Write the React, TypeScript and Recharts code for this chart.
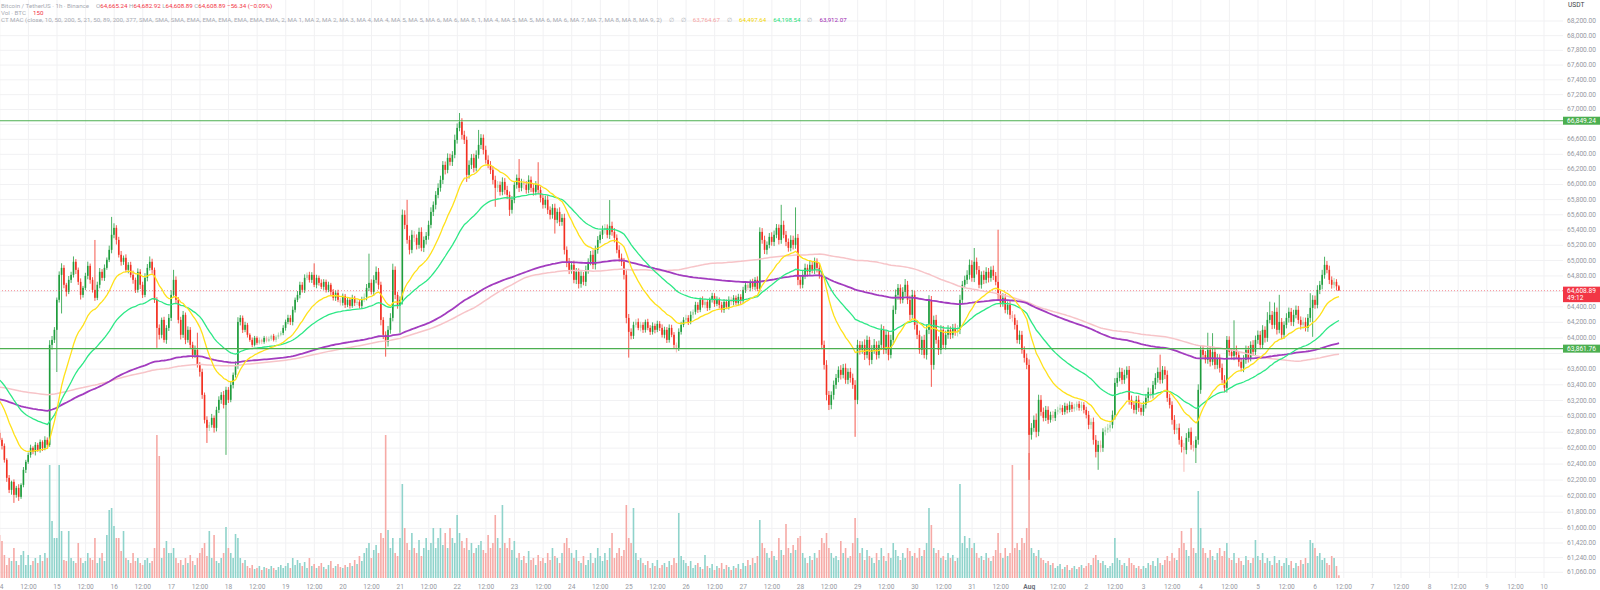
import React from "react"
import { Bar, CartesianGrid, ComposedChart, Line, ReferenceLine, XAxis, YAxis } from "recharts"

// BTCUSDT 1h, Binance, one candle per hour from 14 Jul 00:00 to 6 Aug 10:00
const firstOpen = 62792

const closes = [
  62704, 62628, 62453, 62228, 62078, 62178, 62016, 62103, 61991, 62140, 62328, 62428, 62515, 62603, 62553, 62641, 62578, 62678, 62603, 62704, 62641, 63910, 63974, 64103,
  64490, 64814, 64905, 64685, 64594, 64749, 64814, 64984, 64879, 64723, 64554, 64645, 64801, 64931, 64749, 64619, 64516, 64685, 64853, 64775, 64905, 65010, 65140, 65337,
  65428, 65270, 65075, 64984, 65036, 64879, 64944, 64814, 64749, 64619, 64853, 64685, 64554, 64775, 64905, 64984, 64879, 64490, 64128, 64039, 64231, 63974, 64128, 64257,
  64554, 64749, 64490, 64231, 64039, 64296, 63974, 64103, 63910, 63782, 63846, 63654, 63565, 63272, 62956, 62855, 62893, 62981, 62855, 63082, 63209, 63272, 63145, 63336,
  63209, 63399, 63527, 63654, 64205, 64257, 64103, 64167, 64039, 63974, 63910, 64000, 63936, 63974, 63949, 64000, 63961, 63987, 64026, 63974, 64013, 64039, 64064, 64128,
  64205, 64257, 64205, 64361, 64490, 64554, 64685, 64619, 64775, 64814, 64749, 64814, 64685, 64775, 64710, 64659, 64723, 64619, 64685, 64594, 64516, 64581, 64490, 64451,
  64541, 64425, 64490, 64412, 64516, 64451, 64464, 64412, 64490, 64528, 64645, 64710, 64594, 64749, 64853, 64685, 64231, 64039, 63949, 64103, 64257, 64879, 64554, 64425,
  64490, 65599, 65467, 65270, 65140, 65337, 65297, 65205, 65375, 65166, 65270, 65323, 65467, 65638, 65731, 65862, 65955, 66061, 66260, 66193, 66353, 66300, 66393, 66593,
  66753, 66833, 66660, 66593, 66127, 66260, 66353, 66220, 66393, 66526, 66620, 66460, 66327, 66260, 66193, 66061, 65955, 65995, 65902, 66034, 65928, 65862, 65665, 65797,
  65995, 66087, 65955, 66021, 65995, 65928, 66061, 65955, 65902, 65995, 65928, 65823, 65731, 65797, 65665, 65599, 65691, 65533, 65638, 65506, 65559, 65140, 64984, 64879,
  64944, 64749, 64853, 64697, 64801, 64723, 64879, 64984, 65075, 64944, 65140, 65270, 65337, 65402, 65428, 65337, 65454, 65375, 65297, 65140, 65036, 64984, 64814, 64257,
  64077, 64026, 64167, 64205, 64128, 64167, 64103, 64205, 64128, 64077, 64154, 64103, 64180, 64128, 64039, 64103, 63974, 64128, 64039, 63910, 63872, 64077, 64167, 64231,
  64257, 64205, 64296, 64335, 64425, 64361, 64490, 64425, 64464, 64386, 64490, 64541, 64438, 64490, 64425, 64361, 64464, 64399, 64490, 64464, 64516, 64451, 64528, 64477,
  64619, 64685, 64645, 64723, 64659, 64749, 64632, 65375, 65270, 65140, 65205, 65310, 65244, 65337, 65428, 65270, 65467, 65337, 65244, 65166, 65270, 65205, 65297, 64749,
  64685, 64814, 64905, 64853, 64944, 64879, 64984, 64905, 64814, 63910, 63654, 63272, 63145, 63272, 63399, 63488, 63590, 63527, 63616, 63463, 63565, 63488, 63399, 63209,
  63910, 63846, 63910, 63782, 63974, 63718, 63846, 63910, 63782, 63910, 64103, 63846, 64039, 63782, 63974, 64361, 64554, 64645, 64490, 64594, 64685, 64490, 64296, 64554,
  64167, 64039, 63846, 63974, 63782, 64103, 64490, 63654, 64231, 63974, 63846, 64103, 63910, 64039, 64103, 64039, 64128, 64077, 64103, 64490, 64685, 64749, 64814, 64944,
  64775, 64984, 64879, 64685, 64814, 64749, 64853, 64775, 64879, 64801, 64723, 64554, 64451, 64516, 64361, 64425, 64296, 64257, 64167, 63974, 64039, 63846, 63744, 63654,
  62767, 62855, 62956, 62805, 63209, 63057, 62981, 63082, 62956, 63019, 62981, 63057, 63082, 63107, 63057, 63133, 63082, 63145, 63095, 63120, 63158, 63107, 63145, 63082,
  63019, 62893, 62930, 62704, 62553, 62641, 62603, 62805, 62830, 62855, 62893, 63019, 63425, 63488, 63565, 63463, 63527, 63590, 63209, 63145, 63082, 63209, 63107, 63057,
  63145, 63234, 63310, 63272, 63399, 63488, 63565, 63463, 63590, 63527, 63234, 63145, 62956, 62830, 62855, 62704, 62615, 62578, 62729, 62805, 62641, 62603, 62704, 63336,
  63846, 63782, 63718, 63846, 63693, 63820, 63654, 63744, 63616, 63463, 63361, 63974, 63820, 63769, 63846, 63782, 63693, 63616, 63718, 63846, 63744, 63910, 63820, 63974,
  64039, 63910, 64103, 64000, 64231, 64296, 64167, 64335, 64103, 64205, 64039, 64167, 64257, 64335, 64205, 64296, 64361, 64231, 64167, 64205, 64128, 64257, 64386, 64490,
  64425, 64619, 64685, 64814, 64944, 64879, 64749, 64685, 64723, 64665.24, 64608.89,
]

// wick lengths above the body top and below the body bottom, USDT
const upperWicks = [
  40, 25, 30, 20, 35, 15, 30, 25, 45, 20, 35, 25, 30, 40, 20, 35, 25, 30, 20, 45, 30, 60, 50, 35,
  30, 45, 60, 35, 25, 50, 40, 70, 35, 30, 45, 25, 40, 55, 30, 35, 650, 40, 50, 35, 45, 30, 55, 235,
  60, 35, 40, 50, 30, 45, 35, 40, 55, 30, 45, 35, 40, 60, 50, 70, 40, 30, 35, 45, 30, 40, 35, 50,
  60, 130, 45, 35, 40, 50, 30, 45, 35, 40, 55, 220, 35, 40, 30, 45, 35, 50, 30, 40, 45, 35, 50, 40,
  35, 40, 30, 45, 60, 35, 30, 40, 25, 20, 30, 25, 20, 30, 15, 25, 20, 30, 15, 25, 20, 30, 25, 35,
  30, 40, 35, 45, 30, 50, 40, 35, 45, 30, 40, 35, 150, 40, 30, 45, 35, 30, 40, 25, 35, 30, 40, 25,
  30, 25, 35, 30, 40, 25, 30, 35, 40, 45, 50, 380, 45, 60, 70, 50, 40, 35, 45, 50, 60, 80, 45, 40,
  45, 70, 60, 330, 55, 60, 50, 45, 55, 60, 45, 50, 55, 60, 45, 50, 60, 55, 50, 45, 60, 55, 50, 70,
  60, 120, 50, 55, 45, 60, 50, 55, 60, 200, 50, 45, 55, 60, 50, 45, 55, 50, 45, 60, 50, 55, 45, 50,
  50, 45, 250, 55, 45, 50, 60, 45, 55, 50, 300, 45, 50, 55, 60, 45, 50, 55, 45, 60, 50, 55, 45, 50,
  45, 55, 50, 45, 60, 50, 55, 45, 50, 60, 55, 50, 45, 55, 50, 45, 340, 55, 50, 45, 60, 55, 50, 60,
  50, 45, 40, 35, 45, 40, 35, 30, 40, 35, 45, 30, 40, 35, 45, 40, 35, 45, 40, 35, 30, 45, 40, 35,
  40, 35, 45, 30, 40, 35, 30, 45, 40, 35, 30, 40, 35, 45, 30, 40, 35, 30, 45, 40, 35, 30, 40, 35,
  40, 35, 45, 30, 40, 35, 45, 60, 50, 55, 45, 50, 60, 55, 50, 45, 264, 55, 50, 45, 60, 55, 400, 50,
  60, 50, 55, 45, 60, 50, 55, 45, 60, 50, 55, 60, 50, 45, 55, 50, 45, 60, 50, 55, 45, 50, 55, 60,
  65, 50, 45, 70, 55, 40, 60, 75, 45, 55, 70, 50, 60, 45, 65, 55, 70, 50, 45, 60, 75, 50, 55, 65,
  50, 60, 55, 45, 65, 70, 60, 50, 55, 65, 45, 60, 50, 55, 60, 45, 50, 55, 60, 65, 50, 55, 60, 70,
  60, 180, 55, 50, 45, 55, 60, 50, 45, 55, 50, 680, 55, 60, 50, 45, 55, 50, 45, 60, 55, 50, 45, 55,
  70, 60, 55, 80, 65, 60, 55, 50, 45, 40, 50, 35, 40, 45, 35, 40, 30, 45, 35, 40, 30, 35, 40, 35,
  40, 50, 45, 55, 60, 50, 55, 45, 40, 50, 45, 55, 60, 70, 55, 50, 65, 45, 50, 55, 45, 50, 55, 45,
  45, 50, 55, 45, 50, 60, 55, 220, 50, 45, 55, 50, 45, 60, 50, 55, 45, 50, 60, 45, 55, 50, 45, 70,
  60, 55, 50, 220, 45, 240, 55, 50, 45, 55, 60, 50, 45, 50, 380, 55, 50, 45, 60, 55, 50, 45, 60, 55,
  55, 50, 60, 45, 100, 170, 50, 120, 55, 350, 50, 45, 60, 55, 50, 65, 55, 50, 45, 60, 55, 50, 190, 60,
  55, 60, 50, 65, 106, 50, 55, 45, 50, 35, 17.68,
]

const lowerWicks = [
  30, 45, 35, 50, 40, 60, 100, 35, 50, 25, 30, 40, 25, 35, 30, 45, 25, 35, 40, 30, 45, 25, 60, 40,
  540, 35, 500, 45, 60, 30, 40, 35, 55, 40, 60, 35, 30, 45, 50, 35, 40, 30, 45, 35, 40, 25, 30, 45,
  45, 60, 35, 50, 40, 30, 45, 35, 50, 40, 35, 55, 40, 30, 45, 35, 50, 40, 256, 60, 45, 35, 50, 40,
  40, 35, 50, 45, 60, 40, 55, 35, 50, 45, 40, 35, 60, 50, 45, 190, 40, 35, 60, 45, 40, 50, 45, 630,
  40, 30, 45, 35, 50, 45, 40, 30, 35, 25, 30, 20, 25, 20, 30, 25, 20, 15, 25, 20, 30, 25, 20, 30,
  35, 30, 40, 45, 35, 30, 45, 35, 40, 30, 35, 40, 30, 45, 35, 30, 40, 35, 30, 45, 35, 40, 30, 35,
  35, 40, 30, 35, 25, 40, 30, 35, 40, 30, 45, 40, 35, 50, 45, 60, 70, 55, 190, 60, 50, 45, 55, 50,
  360, 60, 55, 50, 60, 45, 55, 60, 50, 45, 55, 60, 50, 45, 55, 60, 45, 50, 55, 60, 45, 50, 55, 45,
  50, 45, 60, 55, 93, 50, 55, 60, 45, 50, 55, 60, 50, 45, 55, 60, 250, 55, 50, 45, 60, 55, 80, 50,
  45, 50, 55, 45, 60, 50, 45, 55, 50, 45, 55, 60, 50, 45, 55, 60, 50, 180, 45, 55, 50, 60, 70, 55,
  50, 45, 55, 60, 50, 45, 55, 50, 45, 55, 60, 50, 45, 55, 50, 45, 55, 50, 60, 45, 50, 55, 60, 70,
  330, 45, 40, 35, 30, 45, 40, 35, 30, 40, 35, 45, 30, 40, 35, 45, 40, 35, 30, 45, 60, 40, 35, 30,
  35, 40, 30, 45, 35, 40, 30, 35, 45, 40, 30, 35, 40, 30, 45, 35, 40, 30, 35, 40, 45, 30, 35, 40,
  35, 40, 30, 45, 35, 40, 30, 45, 50, 55, 60, 45, 50, 55, 45, 60, 50, 45, 55, 50, 45, 60, 50, 70,
  50, 45, 55, 60, 50, 45, 55, 60, 50, 55, 60, 70, 65, 55, 60, 50, 55, 60, 45, 50, 55, 60, 50, 467,
  55, 60, 50, 65, 45, 70, 55, 50, 60, 45, 65, 55, 50, 70, 45, 60, 55, 65, 50, 45, 60, 55, 70, 50,
  60, 55, 50, 65, 45, 60, 55, 280, 60, 50, 65, 55, 45, 60, 50, 55, 45, 50, 60, 55, 50, 45, 55, 60,
  50, 55, 60, 45, 50, 55, 45, 60, 50, 55, 45, 60, 55, 50, 45, 60, 55, 50, 60, 45, 55, 50, 60, 55,
  565, 60, 50, 70, 55, 50, 45, 40, 50, 35, 45, 40, 35, 45, 40, 35, 45, 30, 40, 35, 45, 35, 40, 45,
  45, 55, 50, 60, 70, 225, 55, 50, 45, 40, 50, 45, 60, 50, 45, 55, 50, 45, 60, 50, 45, 55, 50, 45,
  50, 45, 55, 50, 45, 55, 60, 50, 45, 55, 50, 45, 60, 55, 50, 60, 70, 275, 55, 50, 60, 45, 190, 60,
  50, 55, 45, 50, 60, 45, 55, 50, 60, 45, 55, 60, 50, 45, 55, 50, 60, 45, 55, 50, 60, 45, 50, 55,
  50, 55, 45, 60, 50, 45, 55, 50, 60, 45, 55, 50, 45, 60, 50, 55, 45, 50, 60, 55, 45, 50, 55, 373,
  50, 45, 55, 60, 50, 45, 55, 50, 45, 55, 0,
]

// volume, BTC
const volumes = [
  2365, 2035, 1265, 715, 1100, 935, 1650, 935, 715, 1265, 1485, 715, 1265, 715, 935, 1100, 825, 1265, 935, 1375, 1100, 6215, 3135, 2200,
  2200, 6215, 2585, 990, 935, 2585, 1100, 935, 825, 1925, 1100, 825, 935, 1375, 1100, 990, 2200, 825, 1100, 1375, 935, 2365, 3740, 3850,
  2860, 2200, 2200, 1485, 2585, 1100, 990, 825, 1375, 935, 1100, 825, 715, 990, 1100, 825, 935, 1650, 7865, 6710, 1100, 1650, 2035, 1375,
  1375, 1650, 1100, 825, 990, 715, 1100, 825, 1265, 935, 715, 1100, 1375, 1650, 1925, 1210, 2585, 1100, 2365, 935, 825, 1100, 1375, 2805,
  1650, 1375, 1100, 2420, 2200, 1100, 825, 990, 660, 550, 715, 495, 550, 660, 440, 605, 550, 495, 660, 550, 440, 605, 715, 550,
  660, 825, 550, 1100, 715, 990, 825, 660, 880, 550, 1100, 660, 770, 550, 660, 825, 605, 495, 715, 935, 550, 660, 770, 605,
  550, 715, 605, 825, 660, 990, 770, 1210, 935, 1375, 1650, 1925, 1100, 1540, 1815, 1375, 2475, 2200, 7865, 2640, 1650, 2200, 1375, 1210,
  2200, 5170, 2750, 1925, 1540, 2475, 1650, 1375, 2090, 1210, 1650, 2200, 1540, 1925, 2750, 1650, 2200, 2750, 1815, 2475, 1650, 2750, 2200, 1925,
  3465, 2475, 2035, 1650, 2200, 1540, 1925, 1375, 1650, 1815, 2035, 1540, 1375, 2365, 1650, 1925, 3465, 2200, 1650, 4015, 1925, 1650, 2200, 1540,
  2035, 1100, 1375, 990, 1210, 825, 1485, 990, 1100, 715, 1265, 935, 1100, 825, 1375, 990, 1650, 1210, 1100, 825, 1375, 1925, 2200, 1650,
  1375, 1100, 1540, 935, 825, 1210, 715, 990, 1375, 825, 1100, 1650, 1210, 935, 1375, 990, 1650, 2475, 1100, 1375, 1650, 1210, 1540, 4015,
  2200, 1925, 3850, 1375, 990, 1100, 825, 715, 935, 550, 825, 660, 990, 550, 715, 825, 605, 935, 715, 1100, 825, 3575, 1210, 990,
  825, 660, 935, 550, 715, 825, 605, 495, 1265, 660, 550, 770, 440, 660, 550, 825, 495, 715, 605, 440, 660, 550, 770, 495,
  825, 660, 990, 715, 1100, 825, 1210, 3190, 1925, 1650, 1375, 1100, 1485, 1210, 990, 2200, 1540, 1265, 2970, 1650, 1375, 1815, 1540, 2200,
  2310, 1375, 1100, 825, 1210, 990, 1375, 1100, 1540, 2200, 1925, 2475, 1650, 1375, 1100, 1210, 990, 2035, 1375, 1650, 1100, 1210, 1925, 3300,
  2200, 1375, 1650, 990, 1540, 1210, 1100, 825, 1375, 990, 1650, 1210, 935, 1375, 1100, 1925, 1540, 1210, 990, 1375, 1100, 1650, 1485, 1210,
  1375, 1100, 1650, 1210, 1540, 1925, 3850, 2915, 1650, 1375, 1540, 1100, 1210, 990, 1375, 1100, 1265, 935, 1100, 5170, 1925, 2310, 1650, 2200,
  1650, 1925, 1375, 1100, 1210, 990, 1375, 1100, 935, 1210, 1540, 2475, 1375, 1100, 1650, 1210, 1375, 6215, 1650, 1925, 1540, 2200, 1925, 2750,
  6875, 1650, 1375, 1210, 1540, 1100, 990, 825, 935, 715, 825, 550, 660, 770, 495, 605, 715, 440, 550, 660, 495, 605, 715, 550,
  660, 825, 715, 1100, 1265, 990, 825, 935, 715, 550, 660, 825, 2200, 1100, 990, 715, 825, 660, 1100, 825, 715, 550, 660, 495,
  660, 550, 825, 715, 935, 660, 1100, 825, 715, 990, 1210, 935, 1375, 1100, 990, 1650, 2585, 1925, 1540, 1210, 2750, 1650, 1375, 4785,
  2750, 1650, 1375, 1100, 1540, 1210, 990, 1375, 1650, 1210, 1485, 1925, 1100, 990, 1375, 825, 1100, 935, 715, 1210, 990, 825, 1100, 2090,
  1210, 990, 1375, 825, 1100, 935, 715, 1210, 825, 990, 660, 825, 1100, 715, 935, 550, 825, 660, 990, 770, 1100, 825, 2090, 1925,
  1650, 1210, 1375, 990, 1100, 825, 715, 1210, 1100, 660, 150,
]

// moving average values at the left edge of the chart (prices before 14 Jul are not shown)
const sma200Start = 63374
const ema21Start = 63240
const ema50Start = 63490
const ema200Start = 63220

const dayLabels = ["14", "15", "16", "17", "18", "19", "20", "21", "22", "23", "24", "25", "26", "27", "28", "29", "30", "31", "Aug", "2", "3", "4", "5", "6", "7", "8", "9", "10"]
const timeTicks = Array.from({ length: 55 }, (_, i) => i * 12)

const priceTicks = [
  61060, 61240, 61420, 61600, 61800, 62000, 62200, 62400, 62600, 62800, 63000, 63200, 63400, 63600, 64000, 64200, 64400,
  64800, 65000, 65200, 65400, 65600, 65800, 66000, 66200, 66400, 66600, 67000, 67200, 67400, 67600, 67800, 68000, 68200,
]
const gridPrices = [...priceTicks, 63800, 64600, 66800]

const support = 63861.76
const resistance = 66849.24
const lastPrice = 64608.89

const X_DOMAIN = [0.084, 655.98]
const Y_DOMAIN = [60990, 68488]
const VOL_DOMAIN = [0, 31790]

const FONT = 'Roboto, "Noto Sans", sans-serif'
const BG = "#ffffff"
const UP = "#1f9d3d"
const DOWN = "#f23022"
const UP_FAINT = "#a3d6aa"
const DOWN_FAINT = "#f7aaa4"

function ema(seed: number, n: number) {
  const k = 2 / (n + 1)
  let e = seed
  return closes.map((c) => (e = e + k * (c - e)))
}

function smaWithStart(seed: number, n: number) {
  return closes.map((_, i) => {
    let s = 0
    let cnt = 0
    for (let j = Math.max(0, i - n + 1); j <= i; j++) {
      s += closes[j]
      cnt++
    }
    return (s + (n - cnt) * seed) / n
  })
}

const ma21 = ema(ema21Start, 21)
const ma50 = ema(ema50Start, 50)
const ma200 = ema(ema200Start, 200)
const sma200 = smaWithStart(sma200Start, 200)

const rows = closes.map((c, i) => {
  const o = i === 0 ? firstOpen : closes[i - 1]
  const hi = Math.max(o, c) + upperWicks[i]
  const lo = Math.min(o, c) - lowerWicks[i]
  return { h: i, o, c, hi, lo, range: [lo, hi], vol: volumes[i], up: c >= o, e21: ma21[i], e50: ma50[i], e200: ma200[i], s200: sma200[i] }
})

const fmtPrice = (v: number) => v.toLocaleString("en-US", { minimumFractionDigits: 2, maximumFractionDigits: 2 })

function Candle(props: any) {
  const { x, y, width, height, payload } = props
  if (x == null || !payload) return null
  const cx = x + width / 2
  const { o, c, hi, lo } = payload
  const top = Math.log(hi)
  const span = top - Math.log(lo)
  const py = (p: number) => (span > 0 ? y + ((top - Math.log(p)) / span) * height : y)
  const bTop = py(Math.max(o, c))
  const bBot = py(Math.min(o, c))
  const faint = Math.abs(c - o) < 45
  const color = c >= o ? (faint ? UP_FAINT : UP) : faint ? DOWN_FAINT : DOWN
  return (
    <g>
      <line x1={cx} x2={cx} y1={y} y2={y + height} stroke={color} strokeWidth={0.8} />
      <rect x={cx - 0.8} y={bTop} width={1.6} height={Math.max(bBot - bTop, 0.8)} fill={color} />
    </g>
  )
}

function VolumeBar(props: any) {
  const { x, y, width, height, payload } = props
  if (x == null || !payload || !(height > 0)) return null
  return <rect x={x + width / 2 - 0.8} y={y} width={1.6} height={height} fill={payload.up ? "#8fd3cb" : "#f6aaa6"} />
}

function TimeTick(props: any) {
  const { x, y, payload } = props
  const h = payload.value
  const label = h % 24 === 0 ? dayLabels[h / 24] : "12:00"
  const month = label === "Aug"
  return (
    <text x={x} y={y + 11} textAnchor="middle" fontSize={6.6} fontFamily={FONT} fill={month ? "#6b6e78" : "#9598a1"} fontWeight={month ? 700 : 400}>
      {label}
    </text>
  )
}

function PriceTick(props: any) {
  const { x, y, payload } = props
  return (
    <text x={x} y={y} dominantBaseline="central" fontSize={6.6} fontFamily={FONT} fill="#9598a1">
      {fmtPrice(payload.value)}
    </text>
  )
}

function PriceTag(props: any) {
  const { viewBox, text, sub, bg } = props
  if (!viewBox) return null
  const x = viewBox.x + viewBox.width
  const y = viewBox.y
  return (
    <g>
      <rect x={x} y={y - 4} width={37} height={sub ? 15.5 : 8} fill={bg} />
      <text x={x + 4} y={y + 0.3} dominantBaseline="central" fontSize={6.6} fontFamily={FONT} fill="#ffffff">
        {text}
      </text>
      {sub && (
        <text x={x + 4} y={y + 7.3} dominantBaseline="central" fontSize={6.6} fontFamily={FONT} fill="#ffffff">
          {sub}
        </text>
      )}
    </g>
  )
}

const grey = "#a8abb3"
const red = "#f23645"
const gap: React.CSSProperties = { marginLeft: 7 }

function Header() {
  const line = (top: number): React.CSSProperties => ({ position: "absolute", left: 1, top, fontSize: 6.2, lineHeight: "8px", fontFamily: FONT, color: grey, whiteSpace: "nowrap" })
  return (
    <>
      <div style={line(1.7)}>
        Bitcoin / TetherUS · 1h · Binance<span style={gap}>O</span>
        <span style={{ color: red }}>64,665.24</span> H<span style={{ color: red }}>64,682.92</span> L<span style={{ color: red }}>64,608.89</span> C
        <span style={{ color: red }}>64,608.89</span> <span style={{ color: red }}>−56.34 (−0.09%)</span>
      </div>
      <div style={line(8.7)}>
        Vol · BTC<span style={{ ...gap, color: red }}>150</span>
      </div>
      <div style={line(16.3)}>
        CT MAC (close, 10, 50, 200, 5, 21, 50, 89, 200, 377, SMA, SMA, SMA, EMA, EMA, EMA, EMA, EMA, EMA, 2, MA 1, MA 2, MA 2, MA 3, MA 4, MA 4, MA 5, MA 5, MA 6, MA 6, MA 8, 1, MA 4, MA 5, MA 5, MA 6, MA 6, MA 7, MA 7, MA 8, MA 8, MA 9, 2)
        <span style={gap}>∅</span>
        <span style={gap}>∅</span>
        <span style={{ ...gap, color: "#f5a3a3" }}>63,764.67</span>
        <span style={gap}>∅</span>
        <span style={{ ...gap, color: "#f2d600" }}>64,497.64</span>
        <span style={{ ...gap, color: "#1ee07a" }}>64,198.54</span>
        <span style={gap}>∅</span>
        <span style={{ ...gap, color: "#9c27b0" }}>63,912.07</span>
      </div>
    </>
  )
}

export default function App() {
  return (
    <div style={{ position: "absolute", left: 0, top: 0, width: 1600, height: 590, background: BG, overflow: "hidden" }}>
      <ComposedChart width={1600} height={590} data={rows} margin={{ top: 0, right: 0, bottom: 0, left: 0 }}>
        <XAxis xAxisId="p" type="number" dataKey="h" domain={X_DOMAIN} allowDataOverflow ticks={timeTicks} interval={0} height={12} tickSize={0} tickMargin={0} axisLine={false} tickLine={false} tick={<TimeTick />} />
        <XAxis xAxisId="v" type="number" dataKey="h" domain={X_DOMAIN} allowDataOverflow hide />
        <YAxis yAxisId="p" orientation="right" scale="log" domain={Y_DOMAIN} allowDataOverflow ticks={priceTicks} interval={0} width={37} tickSize={0} tickMargin={4} axisLine={false} tickLine={false} tick={<PriceTick />} />
        <YAxis yAxisId="v" domain={VOL_DOMAIN} allowDataOverflow hide />
        <CartesianGrid xAxisId="p" yAxisId="p" stroke="#f1f1f3" horizontalValues={gridPrices} verticalValues={timeTicks} />
        <Bar xAxisId="v" yAxisId="v" dataKey="vol" barSize={2} isAnimationActive={false} shape={(p: any) => <VolumeBar {...p} />} />
        <ReferenceLine xAxisId="p" yAxisId="p" y={lastPrice} stroke="#f23645" strokeOpacity={0.55} strokeDasharray="1 2" label={<PriceTag text={fmtPrice(lastPrice)} sub="49:12" bg="#f23645" />} />
        <Bar xAxisId="p" yAxisId="p" dataKey="range" barSize={2} isAnimationActive={false} shape={(p: any) => <Candle {...p} />} />
        <Line xAxisId="p" yAxisId="p" dataKey="s200" stroke="#f7c4c8" strokeWidth={1.5} dot={false} activeDot={false} isAnimationActive={false} />
        <Line xAxisId="p" yAxisId="p" dataKey="e200" stroke="#a23cbf" strokeWidth={1.8} dot={false} activeDot={false} isAnimationActive={false} />
        <Line xAxisId="p" yAxisId="p" dataKey="e50" stroke="#2de886" strokeWidth={1.3} dot={false} activeDot={false} isAnimationActive={false} />
        <Line xAxisId="p" yAxisId="p" dataKey="e21" stroke="#ffe11a" strokeWidth={1.3} dot={false} activeDot={false} isAnimationActive={false} />
        <ReferenceLine xAxisId="p" yAxisId="p" y={resistance} stroke="#4caf50" strokeWidth={1.2} label={<PriceTag text={fmtPrice(resistance)} bg="#4caf50" />} />
        <ReferenceLine xAxisId="p" yAxisId="p" y={support} stroke="#4caf50" strokeWidth={1.2} label={<PriceTag text={fmtPrice(support)} bg="#4caf50" />} />
      </ComposedChart>
      <Header />
      <div style={{ position: "absolute", left: 1563, top: 0, width: 37, height: 11, background: "#ffffff", fontSize: 6.6, lineHeight: "11px", fontFamily: FONT, color: "#3c3f48", paddingLeft: 5, boxSizing: "border-box" }}>USDT</div>
    </div>
  )
}
